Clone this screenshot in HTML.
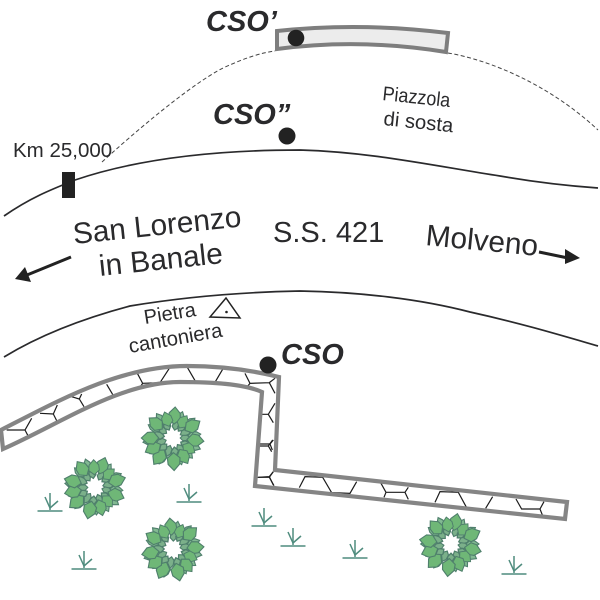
<!DOCTYPE html>
<html><head><meta charset="utf-8"><style>
html,body{margin:0;padding:0;background:#fff}
svg{display:block;filter:blur(.35px)}
text{font-family:"Liberation Sans",sans-serif;fill:#2a2a2c}
.b{font-weight:bold;font-style:italic;font-size:29px}
</style></head><body>
<svg width="600" height="600" viewBox="0 0 600 600" xmlns="http://www.w3.org/2000/svg">
<defs>
<path id="l" d="M0,-14 L6,-19 L5.500,-25 L0,-31 L-5.500,-25 L-6,-19Z" fill="#6fb777" stroke="#4f7f6c" stroke-width="1.1"/>
<path id="m" d="M0,-15 L3.500,-19 L3,-24 L0,-28 L-3,-24 L-3.500,-19Z" fill="#82b992" stroke="#4f7f6c" stroke-width="1.1"/>
<path id="s" d="M0,-8 L3,-11 L3,-16 L0,-20 L-3,-16 L-3,-11Z" fill="#7bb08a" stroke="#4f7f6c" stroke-width="1.2"/>
<g id="tree">
<use href="#s" transform="rotate(12)"/><use href="#s" transform="rotate(38) scale(1.1)"/><use href="#s" transform="rotate(66)"/><use href="#s" transform="rotate(90) scale(.9)"/><use href="#s" transform="rotate(118) scale(1.1)"/><use href="#s" transform="rotate(146)"/><use href="#s" transform="rotate(172) scale(1.15)"/><use href="#s" transform="rotate(200)"/><use href="#s" transform="rotate(226) scale(1.1)"/><use href="#s" transform="rotate(252) scale(.9)"/><use href="#s" transform="rotate(280) scale(1.1)"/><use href="#s" transform="rotate(306)"/><use href="#s" transform="rotate(334) scale(1.1)"/>
<use href="#m" transform="rotate(20)"/><use href="#m" transform="rotate(48) scale(1.05)"/><use href="#m" transform="rotate(82)"/><use href="#m" transform="rotate(112) scale(1.05)"/><use href="#m" transform="rotate(136)"/><use href="#m" transform="rotate(162)"/><use href="#m" transform="rotate(208) scale(1.05)"/><use href="#m" transform="rotate(236)"/><use href="#m" transform="rotate(262) scale(1.08)"/><use href="#m" transform="rotate(298)"/><use href="#m" transform="rotate(326) scale(1.05)"/>
<use href="#l" transform="rotate(4)"/><use href="#l" transform="rotate(32) scale(.85)"/><use href="#l" transform="rotate(58) scale(1.02)"/><use href="#l" transform="rotate(96) scale(1)"/><use href="#l" transform="rotate(124) scale(.85)"/><use href="#l" transform="rotate(150) scale(.95)"/><use href="#l" transform="rotate(178) scale(1.05)"/><use href="#l" transform="rotate(216) scale(1.05)"/><use href="#l" transform="rotate(243) scale(1)"/><use href="#l" transform="rotate(270) scale(1.02)"/><use href="#l" transform="rotate(310) scale(1)"/><use href="#l" transform="rotate(342) scale(.88)"/>
</g>
<g id="grass" fill="none" stroke="#4f8c7e" stroke-width="1.5">
<path d="M-12.5,0H12.5"/><path d="M0,-18V-1"/><path d="M-5,-14L0,-3L8,-10"/>
</g>
</defs>

<path d="M102,162C135,132 190,85 223,68C245,58 260,53 275,51" fill="none" stroke="#444" stroke-width="1" stroke-dasharray="4 2.5"/>
<path d="M448,53C490,60 550,85 598,130" fill="none" stroke="#444" stroke-width="1" stroke-dasharray="4 2.5"/>
<path d="M277,31Q360,22 448,33L446,52Q360,38 277,49Z" fill="#ececec" stroke="#7e7e7e" stroke-width="4"/>
<circle cx="296" cy="38" r="8.3" fill="#222"/>
<circle cx="287" cy="136" r="8.5" fill="#222"/>

<path d="M4,216C30,198 50,190 75,180C140,158 220,150 300,150C370,152 430,165 500,176C540,183 570,186 598,188" fill="none" stroke="#2a2a2c" stroke-width="1.7"/>
<rect x="62" y="172" width="13" height="26" fill="#222"/>
<path d="M4,357C40,335 85,318 130,306C190,296 250,292 300,291C360,292 420,299 470,312C520,323 560,335 598,346" fill="none" stroke="#2a2a2c" stroke-width="1.7"/>

<text class="b" x="206" y="31">CSO’</text>
<text class="b" x="213" y="124">CSO”</text>
<text class="b" x="281" y="364">CSO</text>
<text x="13" y="157" font-size="20.5">Km 25,000</text>
<text font-size="20" textLength="68" lengthAdjust="spacingAndGlyphs" transform="translate(382,100) rotate(6)">Piazzola</text>
<text font-size="20" textLength="70" lengthAdjust="spacingAndGlyphs" transform="translate(383,125) rotate(6)">di sosta</text>
<text font-size="29.8" transform="translate(74,244) rotate(-6)">San Lorenzo</text>
<text font-size="29.8" transform="translate(100,276) rotate(-6)">in Banale</text>
<text font-size="29" x="273" y="242">S.S. 421</text>
<text font-size="29.8" transform="translate(425,245) rotate(5.5)">Molveno</text>
<text font-size="20" transform="translate(145,324) rotate(-9)">Pietra</text>
<text font-size="20.3" transform="translate(130,353) rotate(-10)">cantoniera</text>

<path d="M71,257L27,275" stroke="#222" stroke-width="3" fill="none"/>
<path d="M15,279L25,267L31,282Z" fill="#222"/>
<path d="M539,252L568,258" stroke="#222" stroke-width="3" fill="none"/>
<path d="M580,258L565,249L565,264Z" fill="#222"/>
<path d="M226,298L210,317L240,318Z" fill="none" stroke="#222" stroke-width="1.5"/>
<circle cx="226.500" cy="312" r="1.3" fill="#222"/>

<g fill="none" stroke="#1c1c1c" transform="translate(0,350) scale(.3333)">
<path d="M20,240H75L95,205M75,240L88,265M120,190L160,192L172,165M160,192L170,212M215,140L238,147L252,170M238,147L245,132M320,103L342,140M412,70L428,100L420,112M428,100L480,98L508,55M562,52L587,95M645,97L668,58M735,70L750,100L808,98L825,85M750,100L742,110M808,98L825,130M825,160L805,193L820,218M805,193H785M780,288H805L818,270M805,288L815,305M775,382L808,380L820,365M808,380L820,405" stroke-width="3.6"/>
</g>
<g fill="none" stroke="#1c1c1c" transform="translate(240,440) scale(.3333)">
<path d="M52,112H88L100,95M88,112L102,137M178,143L195,110L248,112L275,158L330,160L350,125M422,128L438,157L432,172M438,157H495L505,142M495,157L505,178M585,187L600,155L655,157L680,203M737,205L758,170M828,177L845,207H900L912,185M900,207L910,232M52,12H90L100,0M90,12L97,30" stroke-width="3.6"/>
</g>
<path d="M1,430C60,400 120,366 187,366C225,366 255,371 279,377L275,470L567,502L565,519L255,486L262,392C245,384 210,382 180,382C120,382 60,424 3,449Z" fill="none" stroke="#858585" stroke-width="4.2" stroke-linejoin="miter"/>
<circle cx="268" cy="365" r="8.5" fill="#222"/>

<use href="#tree" transform="translate(173,438)"/>
<use href="#tree" transform="translate(95,487) rotate(15)"/>
<use href="#tree" transform="translate(173,549) rotate(-10)"/>
<use href="#tree" transform="translate(451,544) rotate(8)"/>

<use href="#grass" transform="translate(50,511)"/>
<use href="#grass" transform="translate(189,502)"/>
<use href="#grass" transform="translate(84,569)"/>
<use href="#grass" transform="translate(264,526)"/>
<use href="#grass" transform="translate(293,546)"/>
<use href="#grass" transform="translate(355,558)"/>
<use href="#grass" transform="translate(514,574)"/>
</svg>
</body></html>
